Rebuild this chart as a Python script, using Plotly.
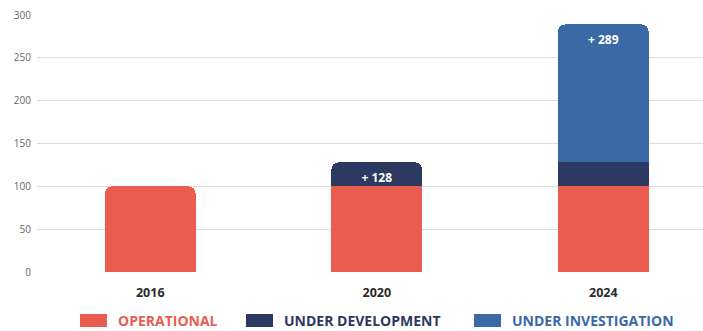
import plotly.graph_objects as go

# Site counts per year, split by status
years = ["2016", "2020", "2024"]
operational = [100, 100, 100]
under_development = [0, 28, 28]
under_investigation = [0, 0, 161]

series_names = ["OPERATIONAL", "UNDER DEVELOPMENT", "UNDER INVESTIGATION"]
series_colors = ["#E85D4F", "#2C3960", "#3A69A6"]

y_ticks = [0, 50, 100, 150, 200, 250, 300]

totals = [o + d + i for o, d, i in zip(operational, under_development, under_investigation)]

FONT = "Open Sans"

# Total label sits in whichever segment is on top of each stack
def top_labels(values, above):
    out = []
    for v, a, t in zip(values, above, totals):
        out.append(f"+ {t}" if v > 0 and a == 0 and t > operational[0] else "")
    return out

dev_text = top_labels(under_development, under_investigation)
inv_text = top_labels(under_investigation, [0] * len(years))

fig = go.Figure()
for name, vals, color, text in [
    (series_names[0], operational, series_colors[0], [""] * len(years)),
    (series_names[1], under_development, series_colors[1], dev_text),
    (series_names[2], under_investigation, series_colors[2], inv_text),
]:
    fig.add_trace(go.Bar(
        x=list(range(len(years))), y=vals, name=name,
        marker=dict(color=color, line=dict(width=0)),
        width=0.4,
        text=text, textposition="inside", insidetextanchor="end",
        textfont=dict(family=FONT, size=12, color="white", weight="bold"),
        textangle=0,
        showlegend=False,
        hoverinfo="skip",
    ))

fig.update_layout(
    template="none",
    width=703, height=331,
    margin=dict(l=37, r=0, t=15, b=59),
    paper_bgcolor="white", plot_bgcolor="white",
    barmode="stack",
    barcornerradius=7,
    uniformtext=dict(mode="show", minsize=8),
    font=dict(family=FONT),
)

fig.update_xaxes(
    range=[-0.5, 2.44],
    tickmode="array", tickvals=list(range(len(years))), ticktext=years,
    tickfont=dict(family=FONT, size=12.5, color="#2b2b2b", weight="bold"),
    showgrid=False, zeroline=False, showline=False,
    ticks="outside", ticklen=9, tickcolor="rgba(0,0,0,0)",
)
fig.update_yaxes(
    range=[0, 300],
    tickmode="array", tickvals=y_ticks,
    tickfont=dict(family=FONT, size=10, color="#666666"),
    showgrid=True, gridcolor="#dddddd", gridwidth=1,
    zeroline=False, showline=False,
    ticks="outside", ticklen=3, tickcolor="rgba(0,0,0,0)",
)

# Legend row: swatch rectangles with coloured labels
legend_x = [80, 246, 474]
for name, color, x0 in zip(series_names, series_colors, legend_x):
    fig.add_shape(type="rect", xref="paper", yref="paper",
                  x0=(x0 - 37) / 666, x1=(x0 + 27 - 37) / 666,
                  y0=-(327 - 272) / 257, y1=-(314 - 272) / 257,
                  fillcolor=color, line=dict(width=0))
    fig.add_annotation(xref="paper", yref="paper",
                       x=(x0 + 36 - 37) / 666, y=-(320 - 272) / 257,
                       xanchor="left", yanchor="middle", showarrow=False,
                       text=name,
                       font=dict(family=FONT, size=14, color=color, weight="bold"))

fig.write_html("out.html")
